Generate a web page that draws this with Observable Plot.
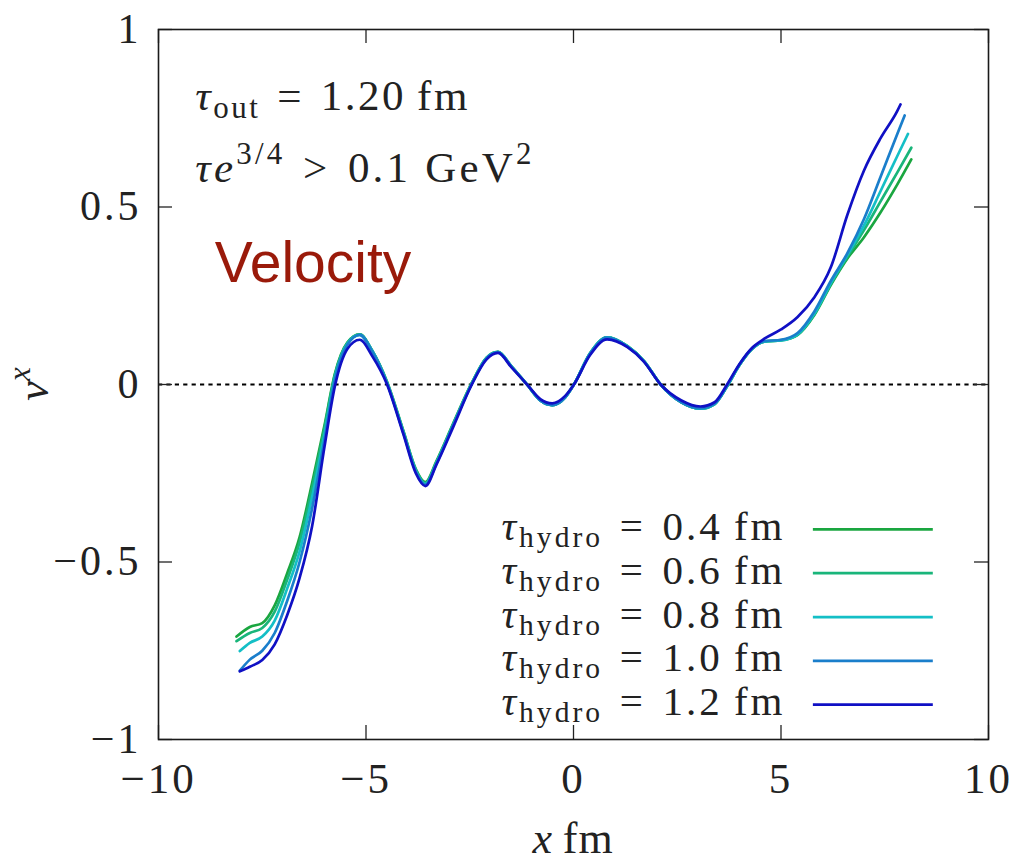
<!DOCTYPE html>
<html><head><meta charset="utf-8">
<script src="https://cdn.jsdelivr.net/npm/d3@7"></script>
<script src="https://cdn.jsdelivr.net/npm/@observablehq/plot@0.6"></script>
<style>body{margin:0;background:#fff}</style>
</head><body><div id="chart"></div>
<script>
const xTicks = [-10, -5, 0, 5, 10];
const yTicks = [-1, -0.5, 0, 0.5, 1];
const seriesLabels = ["0.4", "0.6", "0.8", "1.0", "1.2"];
const seriesColors = ["#1aa640", "#19b57a", "#14bfc6", "#1a7ecb", "#1010c4"];

const xCommon = [-8.1, -7.8, -7.5, -7.2, -6.9, -6.6, -6.3, -6.0, -5.75, -5.45, -5.15, -4.85, -4.5, -4.1, -3.8, -3.57, -3.3, -2.9, -2.45, -2.1, -1.82, -1.5, -1.12, -0.8, -0.51, -0.2, 0.01, 0.4, 0.81, 1.3, 1.7, 2.1, 2.6, 3.06, 3.4, 3.7, 4.0, 4.3, 4.6, 5.0, 5.4, 5.8, 6.2, 6.6, 7.0, 7.4, 7.8, 8.1];
const xStart = [-8.12, -8.12, -8.04, -8.04, -8.04];
const xEnd = [8.14, 8.14, 8.06, 7.98, 7.88];

const v04 = [-0.710, -0.683, -0.672, -0.622, -0.532, -0.430, -0.278, -0.115, 0.030, 0.118, 0.141, 0.095, 0.010, -0.130, -0.238, -0.275, -0.215, -0.110, 0.005, 0.075, 0.092, 0.052, 0.000, -0.045, -0.058, -0.036, 0.000, 0.088, 0.133, 0.108, 0.066, 0.000, -0.050, -0.068, -0.055, -0.005, 0.055, 0.100, 0.121, 0.125, 0.140, 0.195, 0.280, 0.355, 0.415, 0.485, 0.563, 0.634];
const v06 = [-0.723, -0.700, -0.686, -0.640, -0.550, -0.445, -0.293, -0.122, 0.027, 0.117, 0.141, 0.095, 0.008, -0.132, -0.240, -0.278, -0.218, -0.112, 0.004, 0.075, 0.092, 0.052, 0.000, -0.045, -0.058, -0.036, 0.000, 0.088, 0.133, 0.108, 0.066, 0.000, -0.050, -0.068, -0.055, -0.005, 0.055, 0.100, 0.121, 0.124, 0.140, 0.197, 0.283, 0.360, 0.435, 0.516, 0.597, 0.667];
const v08 = [-0.751, -0.728, -0.710, -0.665, -0.575, -0.470, -0.318, -0.140, 0.020, 0.115, 0.140, 0.095, 0.007, -0.134, -0.243, -0.280, -0.220, -0.114, 0.003, 0.074, 0.091, 0.052, 0.000, -0.045, -0.058, -0.036, 0.000, 0.088, 0.133, 0.108, 0.066, 0.000, -0.050, -0.068, -0.055, -0.005, 0.055, 0.100, 0.121, 0.124, 0.141, 0.199, 0.286, 0.365, 0.448, 0.545, 0.643, 0.706];
const v10 = [-0.806, -0.775, -0.750, -0.700, -0.610, -0.500, -0.350, -0.155, 0.015, 0.112, 0.140, 0.093, 0.006, -0.136, -0.245, -0.282, -0.222, -0.115, 0.002, 0.073, 0.091, 0.051, 0.000, -0.045, -0.058, -0.036, 0.000, 0.087, 0.132, 0.107, 0.065, 0.000, -0.050, -0.067, -0.054, -0.004, 0.056, 0.101, 0.122, 0.126, 0.145, 0.205, 0.292, 0.370, 0.466, 0.585, 0.705, 0.758];
const v12 = [-0.808, -0.795, -0.776, -0.732, -0.650, -0.545, -0.400, -0.175, -0.005, 0.100, 0.126, 0.080, 0.002, -0.140, -0.250, -0.286, -0.225, -0.120, 0.000, 0.070, 0.089, 0.049, 0.000, -0.041, -0.053, -0.032, 0.000, 0.083, 0.127, 0.105, 0.064, 0.000, -0.045, -0.062, -0.050, 0.000, 0.058, 0.103, 0.129, 0.155, 0.190, 0.245, 0.330, 0.478, 0.603, 0.694, 0.770, 0.789];
const seriesValues = [v04, v06, v08, v10, v12];

const rows = [];
seriesValues.forEach((vals, s) => vals.forEach((v, i) => {
  const x = i === 0 ? xStart[s] : (i === vals.length - 1 ? xEnd[s] : xCommon[i]);
  rows.push({series: seriesLabels[s], x, y: v});
}));

const W = 1014, H = 864, mL = 158, mR = 26, mT = 29, mB = 125;
const innerW = W - mL - mR, innerH = H - mT - mB;
const tickLen = 14;
const serif = "'Liberation Serif', 'Times New Roman', serif";
const fmt = d => (d < 0 ? "\u2212" : "") + Math.abs(d);

// legend layout (data coordinates)
const legX1 = 5.78, legX2 = 8.67, legY0 = -0.408, legStep = 0.1235, legTextX = 5.12;

const plot = Plot.plot({
  width: W, height: H,
  marginLeft: mL, marginRight: mR, marginTop: mT, marginBottom: mB,
  x: {domain: [-10, 10]},
  y: {domain: [-1, 1]},
  color: {domain: seriesLabels, range: seriesColors},
  style: {fontFamily: serif, background: "#fff", color: "#222"},
  marks: [
    Plot.ruleY([0], {stroke: "#000", strokeWidth: 2.2, strokeDasharray: "4.2,4.2"}),
    Plot.tickX(xTicks, {x: d => d, insetTop: innerH - tickLen, stroke: "#222", strokeWidth: 1.3}),
    Plot.tickX(xTicks, {x: d => d, insetBottom: innerH - tickLen, stroke: "#222", strokeWidth: 1.3}),
    Plot.tickY(yTicks, {y: d => d, insetRight: innerW - tickLen, stroke: "#222", strokeWidth: 1.3}),
    Plot.tickY(yTicks, {y: d => d, insetLeft: innerW - tickLen, stroke: "#222", strokeWidth: 1.3}),
    Plot.axisX(xTicks, {tickSize: 0, tickPadding: 23, fontSize: 43, tickFormat: fmt, label: null, fill: "#222"}),
    Plot.axisY(yTicks, {tickSize: 0, tickPadding: 17, fontSize: 42, tickFormat: fmt, label: null, fill: "#222"}),
    Plot.line(rows, {x: "x", y: "y", z: "series", stroke: "series", strokeWidth: 2.7, curve: "monotone-x"}),
    Plot.ruleY(seriesLabels, {y: (d, i) => legY0 - i * legStep, x1: legX1, x2: legX2, stroke: d => d, strokeWidth: 2.7}),
    Plot.frame({stroke: "#1a1a1a", strokeWidth: 1.6})
  ]
});

document.getElementById("chart").appendChild(plot);
const sx = plot.scale("x"), sy = plot.scale("y");
const svg = d3.select(plot);
svg.selectAll("[aria-label='y-axis tick label'] text").attr("letter-spacing", 3);
svg.selectAll("[aria-label='x-axis tick label'] text").attr("letter-spacing", 3);

function addText(px, py, parts, {size = 42, anchor = "start", family = serif, fill = "#222", rotate = null, spacing = 0} = {}) {
  const t = svg.append("text")
    .attr("x", px).attr("y", py)
    .attr("font-family", family).attr("font-size", size)
    .attr("fill", fill).attr("text-anchor", anchor)
    .attr("letter-spacing", spacing);
  if (rotate !== null) t.attr("transform", `rotate(${rotate},${px},${py})`);
  let shift = 0;
  parts.forEach(p => {
    const s = t.append("tspan").text(p.t);
    if (p.italic) s.attr("font-style", "italic");
    if (p.scale) s.attr("font-size", size * p.scale);
    const target = p.dy || 0;
    if (target !== shift) { s.attr("dy", target - shift); shift = target; }
  });
  return t;
}

// annotations
addText(sx.apply(-9.1), sy.apply(0.772), [
  {t: "\u03c4", italic: true},
  {t: "out", scale: 0.72, dy: 8},
  {t: "\u2004=\u20041.20\u2009fm", dy: 0}
], {size: 43, spacing: 2.5});
addText(sx.apply(-9.1), sy.apply(0.569), [
  {t: "\u03c4e", italic: true},
  {t: "3/4", scale: 0.72, dy: -18},
  {t: "\u2004>\u20040.1\u2005GeV", dy: 0},
  {t: "2", scale: 0.72, dy: -18}
], {size: 43, spacing: 3.2});
addText(sx.apply(-8.63), sy.apply(0.287), [{t: "Velocity"}],
  {size: 57, family: "'Liberation Sans', Arial, sans-serif", fill: "#9a1a0a"});

// legend text
seriesLabels.forEach((lab, i) => {
  const y = sy.apply(legY0 - i * legStep) + 11;
  addText(sx.apply(legTextX), y, [
    {t: "\u03c4", italic: true},
    {t: "hydro", scale: 0.72, dy: 7},
    {t: "\u2004=\u2004" + lab + "\u2009fm", dy: 0}
  ], {size: 41, anchor: "end", spacing: 3});
});

// axis labels
addText(sx.apply(0), 853, [{t: "x", italic: true}, {t: "\u2009fm"}], {size: 44, anchor: "middle", spacing: 1});
addText(48, sy.apply(0), [{t: "v", italic: true}, {t: "x", italic: true, scale: 0.72, dy: -18}], {size: 44, anchor: "middle", rotate: -90});
</script></body></html>
